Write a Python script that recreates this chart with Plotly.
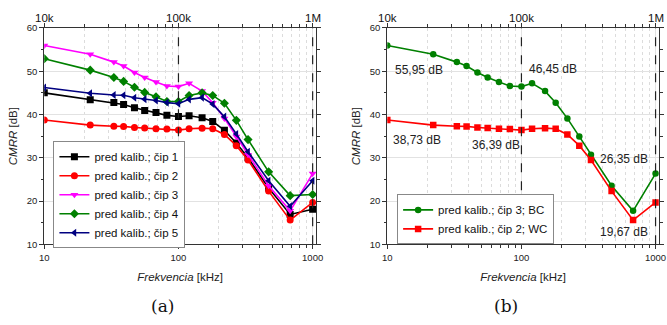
import math
import plotly.graph_objects as go

freq = [10, 22, 33, 39, 47, 56, 68, 82, 100, 120, 150, 180, 220, 270, 330, 470, 680, 1000]

chip1 = [45.0, 43.4, 42.75, 42.3, 41.55, 40.95, 40.45, 39.8, 39.55, 39.7, 39.25, 38.4, 36.35, 33.4, 30.0, 23.0, 16.9, 18.1]
chip2 = [38.73, 37.55, 37.3, 37.25, 37.0, 36.9, 36.7, 36.65, 36.39, 36.7, 36.85, 36.7, 35.4, 32.8, 29.5, 22.3, 15.6, 19.67]
chip3 = [55.95, 53.9, 52.1, 51.2, 49.7, 48.55, 47.5, 46.6, 46.45, 47.2, 45.4, 42.7, 39.1, 34.9, 30.7, 23.55, 17.75, 26.35]
chip4 = [52.9, 50.25, 48.55, 47.65, 46.3, 45.1, 44.1, 43.0, 43.0, 44.4, 45.0, 44.4, 42.6, 38.65, 34.2, 26.75, 21.25, 21.5]
chip5 = [46.25, 44.9, 44.5, 44.45, 43.85, 43.55, 43.25, 42.75, 42.5, 43.5, 43.9, 42.4, 39.5, 35.5, 31.4, 24.7, 18.8, 24.7]

names_a = ["pred kalib.; čip 1", "pred kalib.; čip 2", "pred kalib.; čip 3",
           "pred kalib.; čip 4", "pred kalib.; čip 5"]
names_b = ["pred kalib.; čip 3; BC", "pred kalib.; čip 2; WC"]

bottom_tickvals = [10, 100, 1000]
bottom_ticktext = ["10", "100", "1000"]
top_ticktext = ["10k", "100k", "1M"]
minor_vals = [20, 30, 40, 50, 60, 70, 80, 90, 200, 300, 400, 500, 600, 700, 800, 900]
y_ticks = [10, 20, 30, 40, 50, 60]

FONT = "Liberation Sans, Arial, sans-serif"

fig = go.Figure()

series_a = [
    (chip1, "#000000", "square"),
    (chip2, "#ff0000", "circle"),
    (chip3, "#ff00ff", "triangle-down"),
    (chip4, "#008000", "diamond"),
    (chip5, "#000080", "triangle-left"),
]
for (vals, col, sym), nm in zip(series_a, names_a):
    fig.add_trace(go.Scatter(x=freq, y=vals, name=nm, mode="lines+markers",
                             line=dict(color=col, width=1.6),
                             marker=dict(symbol=sym, size=7, color=col),
                             xaxis="x", yaxis="y", legend="legend"))

series_b = [
    (chip3, "#008000", "circle", names_b[0]),
    (chip2, "#ff0000", "square", names_b[1]),
]
for vals, col, sym, nm in series_b:
    fig.add_trace(go.Scatter(x=freq, y=vals, name=nm, mode="lines+markers",
                             line=dict(color=col, width=1.6),
                             marker=dict(symbol=sym, size=6.5, color=col),
                             xaxis="x2", yaxis="y2", legend="legend2"))

xr = [1, 3.025]
common_x = dict(type="log", range=xr, showline=True, linecolor="#333", linewidth=1.2,
                mirror="ticks", ticks="outside", ticklen=4, tickcolor="#333",
                tickmode="array", tickvals=bottom_tickvals, ticktext=bottom_ticktext,
                tickfont=dict(family=FONT, size=9.5, color="#222"),
                showgrid=True, gridcolor="#e2e2e2", gridwidth=1,
                minor=dict(tickmode="array", tickvals=minor_vals, ticks="outside",
                           ticklen=2.5, tickcolor="#333",
                           showgrid=True, gridcolor="#dcdcdc", griddash="dot"),
                title=dict(text="<i>Frekvencia</i> [kHz]", standoff=11,
                           font=dict(family=FONT, size=11.5, color="#222")),
                zeroline=False)
common_y = dict(range=[10, 60], showline=True, linecolor="#333", linewidth=1.2,
                mirror="ticks", ticks="outside", ticklen=4, tickcolor="#333",
                tickvals=y_ticks, tickfont=dict(family=FONT, size=9.5, color="#222"),
                showgrid=True, gridcolor="#e2e2e2", gridwidth=1,
                minor=dict(ticks="outside", ticklen=2.5, dtick=5, tickcolor="#333"),
                title=dict(text="<i>CMRR</i> [dB]", standoff=6,
                           font=dict(family=FONT, size=11.5, color="#222")),
                zeroline=False)

yd = [1 - 246.7 / 325, 1 - 22.7 / 325]
fig.update_layout(
    width=667, height=325,
    margin=dict(l=0, r=0, t=0, b=0),
    paper_bgcolor="white", plot_bgcolor="white",
    xaxis=dict(domain=[40 / 667, 316.7 / 667], anchor="y", **common_x),
    yaxis=dict(domain=yd, anchor="x", **common_y),
    xaxis2=dict(domain=[389.3 / 667, 665.9 / 667], anchor="y2", **common_x),
    yaxis2=dict(domain=yd, anchor="x2", **common_y),
    legend=dict(x=49.3 / 667, y=1 - 140 / 325, xanchor="left", yanchor="top",
                bgcolor="white", bordercolor="#888", borderwidth=1,
                font=dict(family=FONT, size=11.5, color="#111"),
                itemwidth=30, tracegroupgap=0),
    legend2=dict(x=399.3 / 667, y=1 - 195 / 325, xanchor="left", yanchor="top",
                 bgcolor="white", bordercolor="#888", borderwidth=1,
                 font=dict(family=FONT, size=11.5, color="#111"),
                 itemwidth=30, tracegroupgap=0),
    showlegend=True,
)

for xa, ya in [("x", "y"), ("x2", "y2")]:
    for xv in [100, 1000]:
        fig.add_shape(type="line", xref=xa, yref=f"{ya} domain",
                      x0=xv, x1=xv, y0=0, y1=1,
                      line=dict(color="#222", width=1.2, dash="dash"))
    # top-axis labels (kHz values shown as 10k / 100k / 1M)
    for xv, txt in zip(bottom_tickvals, top_ticktext):
        fig.add_annotation(text=txt, x=math.log10(xv), xref=xa, y=1 - 12 / 325, yref="paper",
                           showarrow=False, xanchor="center", yanchor="middle",
                           font=dict(family=FONT, size=11.5, color="#111"))

ann_font = dict(family=FONT, size=12, color="#222")
labels_b = [
    ("55,95 dB", 11.0, 50.2, "left"),
    ("46,45 dB", 110.4, 50.5, "left"),
    ("38,73 dB", 10.6, 34.0, "left"),
    ("36,39 dB", 41.7, 32.9, "left"),
    ("26,35 dB", 905, 29.7, "right"),
    ("19,67 dB", 905, 12.8, "right"),
]
for txt, xv, yv, xan in labels_b:
    fig.add_annotation(text=txt, x=math.log10(xv), y=yv, xref="x2", yref="y2",
                       xanchor=xan, yanchor="middle", showarrow=False, font=ann_font)

cap_font = dict(family="DejaVu Serif, Liberation Serif, serif", size=17, color="#111")
fig.add_annotation(text="(a)", x=160 / 667, y=1 - 310 / 325, xref="paper", yref="paper",
                   showarrow=False, font=cap_font, xanchor="center", yanchor="middle")
fig.add_annotation(text="(b)", x=510 / 667, y=1 - 310 / 325, xref="paper", yref="paper",
                   showarrow=False, font=cap_font, xanchor="center", yanchor="middle")

fig.write_html("out.html")
